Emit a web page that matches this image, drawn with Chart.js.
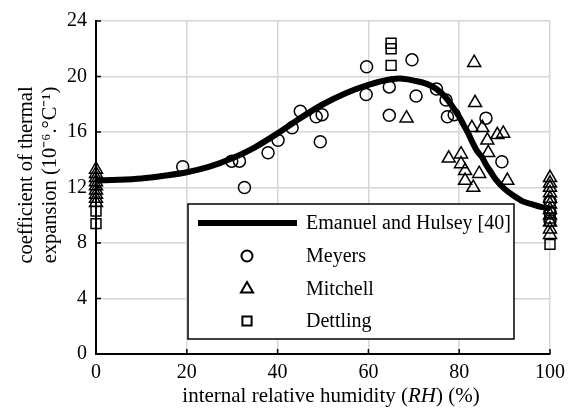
<!DOCTYPE html>
<html>
<head>
<meta charset="utf-8">
<script src="https://cdn.jsdelivr.net/npm/chart.js@4/dist/chart.umd.min.js"></script>
<style>
  html, body { margin: 0; padding: 0; background: #fff; }
  #wrap { width: 586px; height: 409px; }
</style>
</head>
<body>
<div id="wrap"><canvas id="cte"></canvas></div>
<script>
// fitted curve, Emanuel and Hulsey [40]
const curveRH  = [0, 5, 10, 15, 20, 25, 30, 35, 40, 45, 50, 55, 60, 65, 67, 70, 73, 75, 77, 79, 80, 81, 82, 83, 84, 85, 86, 87, 88, 90, 92, 94, 96, 98, 100];
const curveCTE = [12.5, 12.55, 12.65, 12.85, 13.1, 13.5, 14.1, 14.9, 15.9, 17.0, 18.0, 18.8, 19.4, 19.8, 19.85, 19.7, 19.45, 19.1, 18.5, 17.6, 17.1, 16.5, 15.9, 15.2, 14.6, 14.2, 13.6, 13.1, 12.6, 11.9, 11.4, 11.0, 10.8, 10.6, 10.5];

// Meyers (circles)
const meyersRH  = [19.1, 29.9, 31.6, 32.7, 37.9, 40.1, 43.2, 45.0, 48.5, 49.8, 49.4, 59.6, 59.5, 64.6, 64.6, 69.6, 70.5, 75.0, 77.1, 77.4, 78.9, 85.9, 89.4, 100, 100, 100];
const meyersCTE = [13.5, 13.9, 13.9, 12.0, 14.5, 15.4, 16.3, 17.5, 17.1, 17.25, 15.3, 20.7, 18.7, 19.25, 17.2, 21.2, 18.6, 19.1, 18.3, 17.1, 17.25, 17.0, 13.85, 11.0, 10.2, 9.6];

// Mitchell (triangles)
const mitchellRH  = [0, 0, 0, 0, 0, 0, 0, 0, 0, 68.4, 83.3, 83.5, 82.8, 85.1, 86.2, 88.4, 89.7, 86.4, 77.7, 80.4, 80.4, 81.3, 84.4, 81.3, 83.1, 90.6, 100, 100, 100, 100, 100, 100, 100, 100, 100, 100, 100];
const mitchellCTE = [13.3, 13.0, 12.7, 12.4, 12.1, 11.8, 11.5, 11.2, 10.9, 17.0, 21.0, 18.1, 16.3, 16.3, 15.4, 15.8, 15.9, 14.5, 14.1, 14.4, 13.7, 13.2, 13.0, 12.5, 12.0, 12.5, 12.7, 12.3, 12.0, 11.6, 11.2, 10.8, 10.4, 10.0, 9.5, 9.0, 8.6];

// Dettling (squares)
const dettlingRH  = [0, 0, 65, 65, 65, 100, 100, 100];
const dettlingCTE = [10.3, 9.4, 22.4, 22.0, 20.8, 10.2, 9.8, 7.9];

const xTicks = [0, 20, 40, 60, 80, 100];
const yTicks = [0, 4, 8, 12, 16, 20, 24];

const yTitle = ['coefficient of thermal', 'expansion (10\u207B\u2076.\u00B0C\u207B\u00B9)'];
const xTitle = ['internal relative humidity (', 'RH', ') (%)']; // middle part in italics

const serif = 'Liberation Serif';

function toPoints(xs, ys) {
  return xs.map((x, i) => ({ x: x, y: ys[i] }));
}

// short black ticks pointing into the plot
const innerTicks = {
  id: 'innerTicks',
  afterDraw(chart) {
    const { ctx, chartArea, scales } = chart;
    ctx.save();
    ctx.strokeStyle = '#000';
    ctx.lineWidth = 1.5;
    xTicks.forEach(v => {
      const px = scales.x.getPixelForValue(v);
      ctx.beginPath();
      ctx.moveTo(px, chartArea.bottom);
      ctx.lineTo(px, chartArea.bottom - 5);
      ctx.stroke();
    });
    yTicks.forEach(v => {
      const py = scales.y.getPixelForValue(v);
      ctx.beginPath();
      ctx.moveTo(chartArea.left, py);
      ctx.lineTo(chartArea.left + 5, py);
      ctx.stroke();
    });
    ctx.restore();
  }
};

// axis titles (x title has an italic part, y title is slightly above centre)
const axisTitles = {
  id: 'axisTitles',
  afterDraw(chart) {
    const ctx = chart.ctx;
    ctx.save();
    ctx.fillStyle = '#000';
    ctx.textBaseline = 'middle';

    ctx.save();
    ctx.translate(0, 175);
    ctx.rotate(-Math.PI / 2);
    ctx.textAlign = 'center';
    ctx.font = '20.5px "' + serif + '"';
    ctx.fillText(yTitle[0], 0, 27);
    ctx.fillText(yTitle[1], 0, 51);
    ctx.restore();

    const fonts = ['21px "' + serif + '"', 'italic 21px "' + serif + '"', '21px "' + serif + '"'];
    let total = 0;
    const widths = xTitle.map((t, i) => { ctx.font = fonts[i]; const w = ctx.measureText(t).width; total += w; return w; });
    let x = 331 - total / 2;
    ctx.textAlign = 'left';
    xTitle.forEach((t, i) => {
      ctx.font = fonts[i];
      ctx.fillText(t, x, 396);
      x += widths[i];
    });
    ctx.restore();
  }
};

// boxed legend sitting inside the plot area
const boxLegend = {
  id: 'boxLegend',
  afterDraw(chart) {
    const ctx = chart.ctx;
    const box = { left: 188, top: 204, right: 514, bottom: 339 };
    ctx.save();
    ctx.fillStyle = '#fff';
    ctx.fillRect(box.left, box.top, box.right - box.left, box.bottom - box.top);
    ctx.strokeStyle = '#000';
    ctx.lineWidth = 1.5;
    ctx.strokeRect(box.left, box.top, box.right - box.left, box.bottom - box.top);

    const rowY = [223, 256, 289, 321];
    chart.data.datasets.forEach((ds, i) => {
      const y = rowY[i];
      if (ds.type === 'line') {
        ctx.strokeStyle = '#000';
        ctx.lineWidth = 6;
        ctx.beginPath();
        ctx.moveTo(198, y);
        ctx.lineTo(297, y);
        ctx.stroke();
      } else {
        ctx.fillStyle = '#fff';
        ctx.strokeStyle = '#000';
        ctx.lineWidth = 2;
        Chart.helpers.drawPoint(ctx, {
          pointStyle: ds.pointStyle,
          radius: ds.legendRadius,
          borderWidth: 2
        }, 247, y);
      }
      ctx.font = '20px "' + serif + '"';
      ctx.textBaseline = 'middle';
      ctx.textAlign = 'left';
      ctx.fillStyle = '#000';
      ctx.fillText(ds.label, 306, y + 1);
    });
    ctx.restore();
  }
};

new Chart(document.getElementById('cte'), {
  type: 'scatter',
  data: {
    datasets: [
      {
        type: 'line',
        label: 'Emanuel and Hulsey [40]',
        data: toPoints(curveRH, curveCTE),
        borderColor: '#000',
        borderWidth: 6,
        pointRadius: 0,
        fill: false,
        cubicInterpolationMode: 'monotone',
        clip: false
      },
      {
        label: 'Meyers',
        data: toPoints(meyersRH, meyersCTE),
        pointStyle: 'circle',
        pointRadius: 6,
        legendRadius: 5.5,
        borderColor: '#000',
        backgroundColor: 'rgba(0,0,0,0)',
        borderWidth: 1.5,
        clip: false
      },
      {
        label: 'Mitchell',
        data: toPoints(mitchellRH, mitchellCTE),
        pointStyle: 'triangle',
        pointRadius: 7.5,
        legendRadius: 7,
        borderColor: '#000',
        backgroundColor: 'rgba(0,0,0,0)',
        borderWidth: 1.5,
        clip: false
      },
      {
        label: 'Dettling',
        data: toPoints(dettlingRH, dettlingCTE),
        pointStyle: 'rect',
        pointRadius: 7,
        legendRadius: 6.5,
        borderColor: '#000',
        backgroundColor: 'rgba(0,0,0,0)',
        borderWidth: 1.5,
        clip: false
      }
    ]
  },
  options: {
    responsive: true,
    maintainAspectRatio: false,
    animation: false,
    layout: { padding: { top: 14, right: 36, left: 0, bottom: 0 } },
    plugins: {
      legend: { display: false },
      tooltip: { enabled: false }
    },
    scales: {
      x: {
        type: 'linear',
        min: 0,
        max: 100,
        afterFit: s => { s.height = 55; },
        afterBuildTicks: s => { s.ticks = xTicks.map(v => ({ value: v })); },
        ticks: { color: '#000', padding: 7, font: { family: serif, size: 20 } },
        grid: { color: '#d6d6d6', lineWidth: 1.5, drawTicks: false },
        border: { color: '#000', width: 2 }
      },
      y: {
        min: 0,
        max: 24,
        afterFit: s => { s.width = 96; },
        afterBuildTicks: s => { s.ticks = yTicks.map(v => ({ value: v })); },
        ticks: { color: '#000', padding: 9, font: { family: serif, size: 20 } },
        grid: { color: '#d6d6d6', lineWidth: 1.5, drawTicks: false },
        border: { color: '#000', width: 2 }
      }
    }
  },
  plugins: [innerTicks, axisTitles, boxLegend]
});
</script>
</body>
</html>
